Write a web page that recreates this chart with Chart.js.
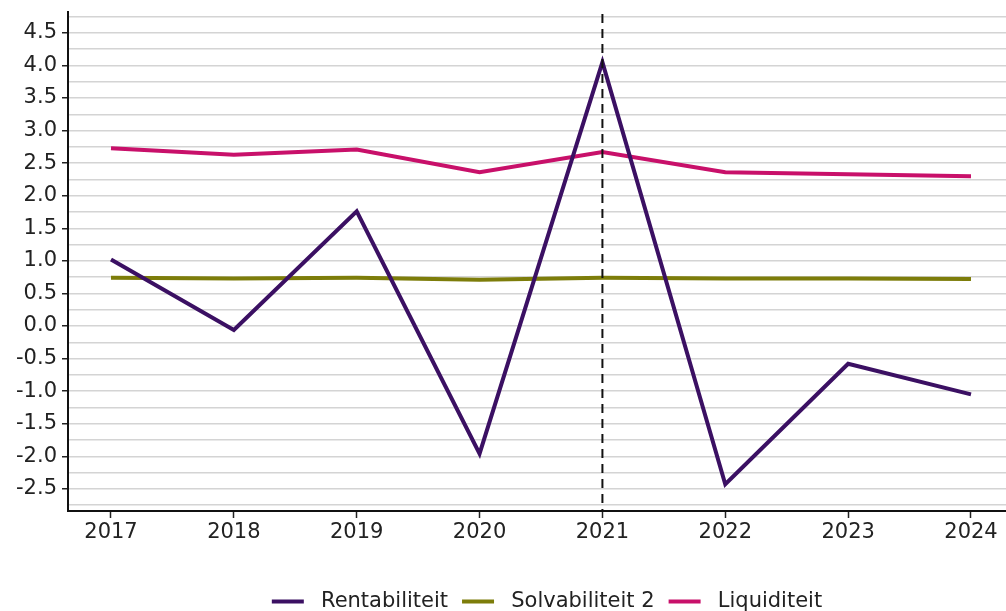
<!DOCTYPE html>
<html>
<head>
<meta charset="utf-8">
<script src="https://cdn.jsdelivr.net/npm/chart.js@4/dist/chart.umd.min.js"></script>
<style>
  html, body { margin: 0; padding: 0; background: #fff; }
  #wrap { width: 1006px; height: 611px; }
</style>
</head>
<body>
<div id="wrap"><canvas id="myChart" width="1006" height="611"></canvas></div>
<script>
// data
const years = [2017, 2018, 2019, 2020, 2021, 2022, 2023, 2024];
const rentabiliteit = [1.02, -0.06, 1.76, -1.96, 4.05, -2.43, -0.58, -1.05];
const solvabiliteit = [0.74, 0.73, 0.74, 0.71, 0.74, 0.73, 0.73, 0.72];
const liquiditeit = [2.73, 2.63, 2.71, 2.36, 2.67, 2.36, 2.33, 2.30];
const markerYear = 2021;

const purple = '#3b1063';
const olive = '#7d7d0a';
const pink = '#c8106a';

function toPoints(arr) {
  return arr.map((v, i) => ({ x: years[i], y: v }));
}

// dashed vertical line at 2021
const vLine = {
  id: 'vLine',
  afterDatasetsDraw(chart) {
    const ctx = chart.ctx;
    const x = chart.scales.x.getPixelForValue(markerYear);
    const area = chart.chartArea;
    ctx.save();
    ctx.strokeStyle = '#111';
    ctx.lineWidth = 2;
    ctx.setLineDash([9, 6]);
    ctx.beginPath();
    ctx.moveTo(x, area.top + 2);
    ctx.lineTo(x, area.bottom);
    ctx.stroke();
    ctx.restore();
  }
};

// legend is centred on the plot area, and sits a bit lower
const legendShift = {
  id: 'legendShift',
  afterLayout(chart) {
    const lg = chart.legend;
    const a = chart.chartArea;
    const d = (a.left + a.right) / 2 - (lg.left + lg.right) / 2 + 10;
    lg.left += d;
    lg.right += d;
    lg.top += 11;
    lg.bottom += 11;
  }
};

const isMajor = v => Math.abs(v * 2 - Math.round(v * 2)) < 1e-6;

const ctx = document.getElementById('myChart');
const myChart = new Chart(ctx, {
  type: 'line',
  data: {
    datasets: [
      { label: 'Rentabiliteit', data: toPoints(rentabiliteit), borderColor: purple, backgroundColor: purple, borderWidth: 4 },
      { label: 'Solvabiliteit 2', data: toPoints(solvabiliteit), borderColor: olive, backgroundColor: olive, borderWidth: 4 },
      { label: 'Liquiditeit', data: toPoints(liquiditeit), borderColor: pink, backgroundColor: pink, borderWidth: 4 }
    ]
  },
  options: {
    responsive: false,
    animation: false,
    layout: { padding: { top: 12, right: 0, left: 0, bottom: 0 } },
    elements: { point: { radius: 0 }, line: { tension: 0, borderJoinStyle: 'miter' } },
    scales: {
      x: {
        type: 'linear',
        min: 2016.65,
        max: 2024.285,
        afterBuildTicks: s => { s.ticks = years.map(v => ({ value: v })); },
        ticks: {
          autoSkip: false,
          callback: v => String(v),
          color: '#222',
          font: { family: 'DejaVu Sans', size: 21 },
          maxRotation: 0,
          padding: 2
        },
        grid: { drawOnChartArea: false, tickLength: 7, tickColor: '#222', tickWidth: 1.5 },
        border: { color: '#111', width: 2 },
        afterFit: s => { s.height = 55; s.paddingLeft = 0; s.paddingRight = 0; }
      },
      y: {
        min: -2.84,
        max: 4.82,
        afterBuildTicks: s => {
          const t = [];
          for (let v = -2.75; v <= 4.76; v += 0.25) t.push({ value: Math.round(v * 100) / 100 });
          s.ticks = t;
        },
        ticks: {
          autoSkip: false,
          callback: v => isMajor(v) ? v.toFixed(1) : '',
          color: '#222',
          font: { family: 'DejaVu Sans', size: 21 },
          padding: 5
        },
        grid: {
          color: '#d4d4d4',
          lineWidth: 1.5,
          tickLength: 6,
          tickColor: c => isMajor(c.tick.value) ? '#222' : 'rgba(0,0,0,0)',
          tickWidth: 1.5
        },
        border: { color: '#111', width: 2 },
        afterFit: s => { s.width = 68; s.paddingTop = 0; s.paddingBottom = 0; }
      }
    },
    plugins: {
      legend: {
        position: 'bottom',
        labels: {
          usePointStyle: true,
          pointStyle: 'line',
          pointStyleWidth: 32,
          boxHeight: 4,
          color: '#222',
          font: { family: 'DejaVu Sans', size: 21 },
          padding: 14,
          generateLabels: chart => {
            const items = Chart.defaults.plugins.legend.labels.generateLabels(chart);
            items.forEach(it => { it.text = ' ' + it.text; });
            return items;
          }
        }
      },
      tooltip: { enabled: false }
    }
  },
  plugins: [vLine, legendShift]
});
</script>
</body>
</html>
